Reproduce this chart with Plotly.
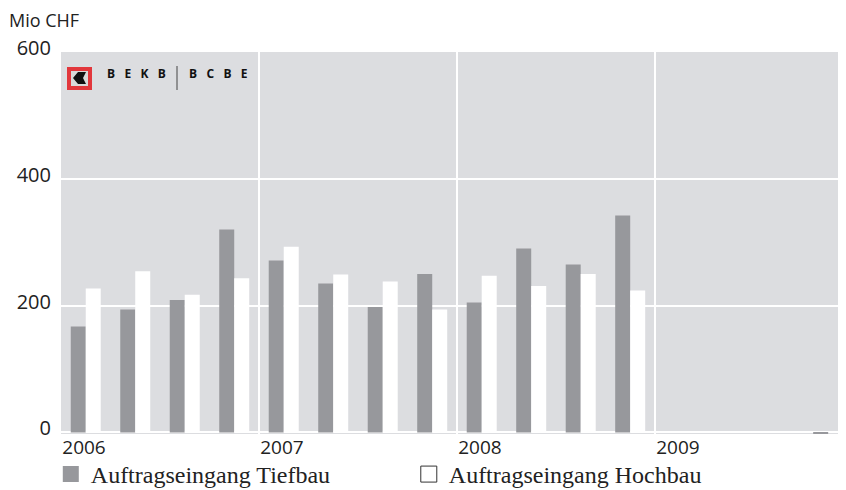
import plotly.graph_objects as go

# quarterly order intake, Mio CHF
years = [2006, 2007, 2008, 2009]
quarters = ["Q1", "Q2", "Q3", "Q4"]
tiefbau = [167, 194, 209, 320,
           271, 235, 198, 250,
           205, 290, 265, 342,
           None, None, None, -2]
hochbau = [227, 254, 217, 243,
           293, 249, 238, 194,
           247, 231, 250, 224,
           None, None, None, None]
year_labels = ["2006", "2007", "2008", "2009"]
y_ticks = [0, 200, 400, 600]

# position each quarter in the middle of its quarter of the year
x_pos = [y + (i + 0.5) / 4 for y in years for i in range(len(quarters))]

gray = "#97989c"
bg = "#dcdde0"

fig = go.Figure()

fig.add_trace(go.Bar(x=x_pos, y=tiefbau, marker=dict(color=gray, line=dict(width=0)),
                     showlegend=False, name="Auftragseingang Tiefbau"))
fig.add_trace(go.Bar(x=x_pos, y=hochbau, marker=dict(color="#ffffff", line=dict(width=0)),
                     showlegend=False, name="Auftragseingang Hochbau"))

# legend entries
fig.add_trace(go.Scatter(x=[None], y=[None], mode="markers", name="Auftragseingang Tiefbau",
                         marker=dict(symbol="square", size=17, color=gray,
                                     line=dict(width=0))))
fig.add_trace(go.Scatter(x=[None], y=[None], mode="markers", name="Auftragseingang Hochbau",
                         marker=dict(symbol="square", size=16, color="#ffffff",
                                     line=dict(width=1, color="#333333"))))

# page body has an 8px margin, so the figure is shifted by 8px
fig.update_layout(
    width=838, height=482,
    margin=dict(l=53, r=0, t=44, b=56, autoexpand=False),
    paper_bgcolor="white",
    plot_bgcolor=bg,
    barmode="group",
    bargap=0.394,
    bargroupgap=0,
    font=dict(family="Open Sans", size=18, color="#222222"),
    legend=dict(orientation="h", x=-0.013, xanchor="left", y=-0.106, yanchor="middle",
                font=dict(family="Liberation Serif", size=24, color="#222222"),
                entrywidth=313, entrywidthmode="pixels", itemclick=False,
                bgcolor="rgba(0,0,0,0)"),
    xaxis=dict(range=[2006, 2009.965], tickmode="array", tickvals=years,
               ticktext=year_labels, ticklabelshift=23, showgrid=True,
               gridcolor="white", gridwidth=2, zeroline=False, showline=False,
               ticks="", automargin=False, tickfont=dict(size=19)),
    yaxis=dict(range=[-2.5, 600], tickmode="array", tickvals=y_ticks,
               showgrid=True, gridcolor="white", gridwidth=2, zeroline=False,
               ticks="", ticklabelshift=-4, ticklabelstandoff=9, automargin=False,
               tickfont=dict(size=20)),
)

# axis unit
fig.add_annotation(text="Mio CHF", xref="paper", yref="paper", x=0, y=1,
                   xshift=-54, yshift=32, xanchor="left", yanchor="middle",
                   showarrow=False, font=dict(family="Open Sans", size=18, color="#222222"))

# BEKB | BCBE logo
fig.add_shape(type="rect", xref="paper", yref="paper", xsizemode="pixel", ysizemode="pixel",
              xanchor=0, yanchor=1, x0=8, x1=29, y0=-17, y1=-36,
              fillcolor="#d9d9d9", line=dict(color="#e2373c", width=4))
fig.add_shape(type="path", xref="paper", yref="paper", xsizemode="pixel", ysizemode="pixel",
              xanchor=0, yanchor=1,
              path="M 12 -26 L 17 -20 L 25 -20 L 22 -26 L 25 -32 L 17 -32 Z",
              fillcolor="#111111", line=dict(width=0))
fig.add_shape(type="line", xref="paper", yref="paper", xsizemode="pixel", ysizemode="pixel",
              xanchor=0, yanchor=1, x0=116, x1=116, y0=-14, y1=-38,
              line=dict(color="#444444", width=1))
nb = "\u00a0\u00a0\u00a0"
for txt, xs in [(nb.join("BEKB"), 75), (nb.join("BCBE"), 157)]:
    fig.add_annotation(text="<b>" + txt + "</b>", xref="paper", yref="paper", x=0, y=1,
                       xshift=xs, yshift=-21, xanchor="center", yanchor="middle",
                       showarrow=False, font=dict(family="Open Sans", size=12, color="#111111"))

fig.write_html("out.html")
